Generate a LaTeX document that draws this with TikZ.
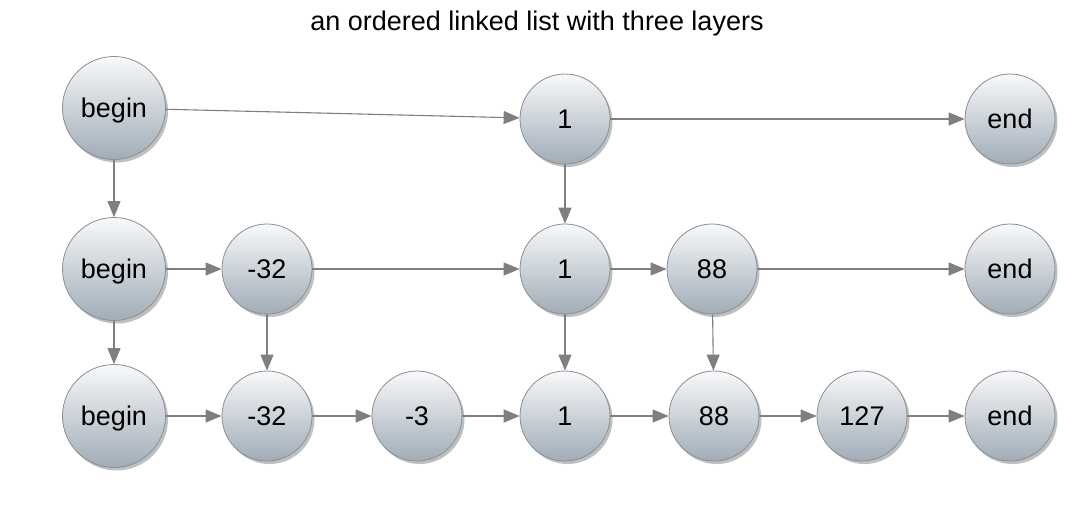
\documentclass[tikz,border=0pt]{standalone}
\usepackage{fontspec}
\setmainfont{Liberation Sans}
\usetikzlibrary{arrows.meta,shadows}
\definecolor{balltop}{HTML}{F8F9FA}
\definecolor{ballmid}{HTML}{E2E6EA}
\definecolor{ballbottom}{HTML}{A0ACB7}
\definecolor{ballrim}{HTML}{8A8F94}
\definecolor{linkgray}{HTML}{7F7F7F}
\tikzset{
  ball/.style={circle, draw=ballrim, line width=0.8pt, shading=axis,
    top color=balltop, middle color=ballmid, bottom color=ballbottom, inner sep=0pt,
    minimum size=90pt, font=\fontsize{27}{31}\selectfont,
    text height=19pt, text depth=0pt,
    drop shadow={shadow xshift=2.5pt, shadow yshift=-3pt, opacity=0.25, fill=black}},
  bigball/.style={ball, minimum size=103pt},
  link/.style={draw=linkgray, line width=1.1pt,
    -{Triangle[length=16pt,width=13pt,fill=linkgray]}}
}
\begin{document}
\begin{tikzpicture}[x=1pt,y=-1pt]
\useasboundingbox[fill=white] (0,0) rectangle (1079,530);
\node[font=\fontsize{27}{31}\selectfont] (title) at (537,24) {an ordered linked list with three layers};
% top layer
\node[bigball] (begin1) at (114,108) {begin};
\node[ball] (one1) at (565,119) {1};
\node[ball] (end1) at (1010,119) {end};
% middle layer
\node[bigball] (begin2) at (114,269) {begin};
\node[ball] (negA2) at (267,269) {-32};
\node[ball] (one2) at (565,269) {1};
\node[ball] (eighty2) at (712,269) {88};
\node[ball] (end2) at (1010,269) {end};
% bottom layer
\node[bigball] (begin3) at (114,416) {begin};
\node[ball] (negA3) at (267,416) {-32};
\node[ball] (negB3) at (417,416) {-3};
\node[ball] (one3) at (565,416) {1};
\node[ball] (eighty3) at (714,416) {88};
\node[ball] (big3) at (862,416) {127};
\node[ball] (end3) at (1010,416) {end};
% links along each layer
\draw[link] (begin1) -- (one1);
\draw[link] (one1) -- (end1);
\draw[link] (begin2) -- (negA2);
\draw[link] (negA2) -- (one2);
\draw[link] (one2) -- (eighty2);
\draw[link] (eighty2) -- (end2);
\draw[link] (begin3) -- (negA3);
\draw[link] (negA3) -- (negB3);
\draw[link] (negB3) -- (one3);
\draw[link] (one3) -- (eighty3);
\draw[link] (eighty3) -- (big3);
\draw[link] (big3) -- (end3);
% links down between layers
\draw[link] (begin1) -- (begin2);
\draw[link] (begin2) -- (begin3);
\draw[link] (one1) -- (one2);
\draw[link] (one2) -- (one3);
\draw[link] (negA2) -- (negA3);
\draw[link] (eighty2) -- (eighty3);
\end{tikzpicture}
\end{document}
